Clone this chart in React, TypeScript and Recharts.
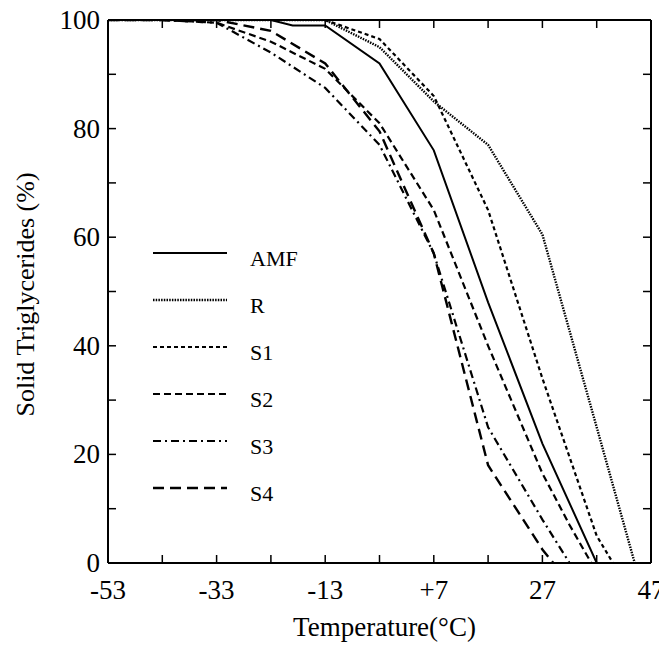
import React from 'react';
import { LineChart, Line, XAxis, YAxis, Legend, Label } from 'recharts';

// temperatures (°C) and solid triglyceride content (%)
const amfT = [-53, -43, -33, -23, -19, -13, -3, 7, 17, 27, 37];
const amfV = [100, 100, 100, 100, 99, 99, 92, 76, 48, 22, 0];

const rT = [-53, -43, -33, -23, -13, -3, 7, 17, 27, 37, 44];
const rV = [100, 100, 100, 100, 100, 95, 85, 77, 60.5, 25, 0];

const s1T = [-53, -43, -33, -23, -13, -3, 7, 17, 27, 37, 40];
const s1V = [100, 100, 100, 100, 100, 96.5, 86, 65, 34, 5, 0];

const s2T = [-53, -43, -33, -23, -13, -3, 7, 17, 27, 32, 36];
const s2V = [100, 100, 99.5, 96, 91, 81, 65, 40, 16.5, 7, 0];

const s3T = [-53, -43, -33, -23, -13, -3, 7, 17, 27, 32];
const s3V = [100, 100, 99.5, 94, 87.5, 77, 57, 25, 8, 0];

const s4T = [-53, -43, -33, -23, -13, -3, 7, 17, 27, 29];
const s4V = [100, 100, 100, 98, 92, 79.5, 57, 18, 2.5, 0];

const xTicks = [-53, -43, -33, -23, -13, -3, 7, 17, 27, 37, 47];
const xLabelTicks = [-53, -33, -13, 7, 27, 47];
const xTickText = ['-53', '-33', '-13', '+7', '27', '47'];
const yTicks = [0, 10, 20, 30, 40, 50, 60, 70, 80, 90, 100];
const yLabelTicks = [0, 20, 40, 60, 80, 100];

const toRows = (t: number[], v: number[]) => t.map((x, i) => ({ t: x, v: v[i] }));

const series = [
  { name: 'AMF', data: toRows(amfT, amfV), dash: undefined as string | undefined, width: 2 },
  { name: 'R', data: toRows(rT, rV), dash: '1.5 1.2', width: 2.4 },
  { name: 'S1', data: toRows(s1T, s1V), dash: '4 3', width: 2.2 },
  { name: 'S2', data: toRows(s2T, s2V), dash: '7 4', width: 2.2 },
  { name: 'S3', data: toRows(s3T, s3V), dash: '8 4 2 4', width: 2.2 },
  { name: 'S4', data: toRows(s4T, s4V), dash: '11 6', width: 2.4 },
];

const FONT = '"Liberation Serif", "Times New Roman", serif';
const TICK = 8;

const BottomTick = (p: any) => {
  const { x, y, payload } = p;
  const i = xLabelTicks.indexOf(payload.value);
  return (
    <g>
      <line x1={x} y1={y} x2={x} y2={y - TICK} stroke="#000" strokeWidth={1.5} />
      {i >= 0 && (
        <text x={x} y={y + 36} textAnchor="middle" fontFamily={FONT} fontSize={27} fill="#000">
          {xTickText[i]}
        </text>
      )}
    </g>
  );
};

const TopTick = (p: any) => (
  <line x1={p.x} y1={p.y} x2={p.x} y2={p.y + TICK} stroke="#000" strokeWidth={1.5} />
);

const LeftTick = (p: any) => {
  const { x, y, payload } = p;
  const labeled = yLabelTicks.includes(payload.value);
  return (
    <g>
      <line x1={x} y1={y} x2={x + TICK} y2={y} stroke="#000" strokeWidth={1.5} />
      {labeled && (
        <text x={x - 8} y={y + 9} textAnchor="end" fontFamily={FONT} fontSize={27} fill="#000">
          {payload.value}
        </text>
      )}
    </g>
  );
};

const RightTick = (p: any) => (
  <line x1={p.x} y1={p.y} x2={p.x - TICK} y2={p.y} stroke="#000" strokeWidth={1.5} />
);

const renderLegend = () => (
  <svg width={170} height={290}>
    {series.map((s, i) => {
      const y = 20 + i * 47;
      return (
        <g key={s.name}>
          <line x1={8} y1={y} x2={82} y2={y} stroke="#000" strokeWidth={s.width} strokeDasharray={s.dash} />
          <text x={105} y={y + 13} fontFamily={FONT} fontSize={22} fill="#000">
            {s.name}
          </text>
        </g>
      );
    })}
  </svg>
);

export default function App() {
  return (
    <div style={{ width: 659, height: 634 }}>
      <LineChart width={659} height={634} margin={{ top: 7, right: 6, bottom: 0, left: 0 }}>
        <XAxis
          dataKey="t"
          type="number"
          domain={[-53, 47]}
          ticks={xTicks}
          interval={0}
          allowDataOverflow
          height={79}
          tickSize={0}
          tickMargin={0}
          tickLine={false}
          tick={<BottomTick />}
          axisLine={{ stroke: '#000', strokeWidth: 2 }}
        >
          <Label
            content={(p: any) => {
              const vb = p.viewBox;
              return (
                <text
                  x={vb.x + vb.width / 2 + 5}
                  y={vb.y + 64}
                  textAnchor="middle"
                  dominantBaseline="central"
                  fontFamily={FONT}
                  fontSize={27}
                  fill="#000"
                >
                  Temperature(°C)
                </text>
              );
            }}
          />
        </XAxis>
        <XAxis
          xAxisId="top"
          orientation="top"
          dataKey="t"
          type="number"
          domain={[-53, 47]}
          ticks={xTicks}
          interval={0}
          allowDataOverflow
          height={5}
          tickSize={0}
          tickMargin={0}
          tickLine={false}
          tick={<TopTick />}
          axisLine={{ stroke: '#000', strokeWidth: 2 }}
        />
        <YAxis
          type="number"
          domain={[0, 100]}
          ticks={yTicks}
          interval={0}
          allowDataOverflow
          width={100}
          tickSize={0}
          tickMargin={0}
          tickLine={false}
          tick={<LeftTick />}
          axisLine={{ stroke: '#000', strokeWidth: 2 }}
        >
          <Label
            content={(p: any) => {
              const vb = p.viewBox;
              const cx = vb.x + 17;
              const cy = vb.y + vb.height / 2 + 3;
              return (
                <text
                  x={cx}
                  y={cy}
                  transform={`rotate(-90 ${cx} ${cy})`}
                  textAnchor="middle"
                  dominantBaseline="central"
                  fontFamily={FONT}
                  fontSize={26}
                  fill="#000"
                >
                  Solid Triglycerides (%)
                </text>
              );
            }}
          />
        </YAxis>
        <YAxis
          yAxisId="right"
          orientation="right"
          type="number"
          domain={[0, 100]}
          ticks={yTicks}
          interval={0}
          allowDataOverflow
          width={10}
          tickSize={0}
          tickMargin={0}
          tickLine={false}
          tick={<RightTick />}
          axisLine={{ stroke: '#000', strokeWidth: 2 }}
        />
        <Legend
          layout="horizontal"
          verticalAlign="middle"
          align="center"
          content={renderLegend}
          wrapperStyle={{ left: 137, top: 225, width: 170, height: 290 }}
        />
        {series.map((s) => (
          <Line
            key={s.name}
            data={s.data}
            dataKey="v"
            name={s.name}
            type="linear"
            stroke="#000"
            strokeWidth={s.width}
            strokeDasharray={s.dash}
            dot={false}
            activeDot={false}
            isAnimationActive={false}
          />
        ))}
      </LineChart>
    </div>
  );
}
